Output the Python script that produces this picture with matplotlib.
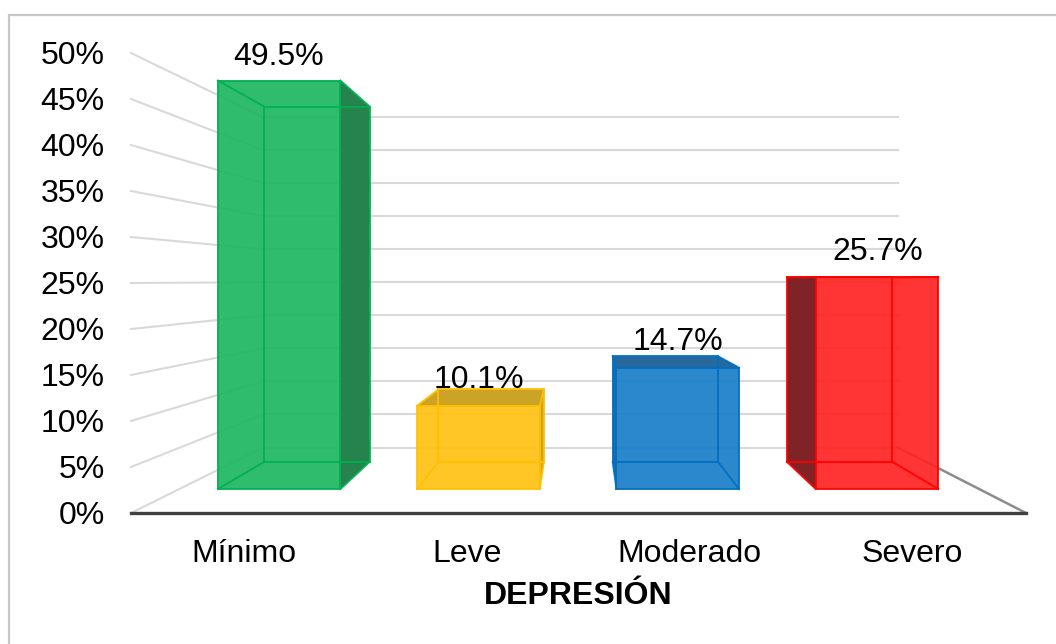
import matplotlib
matplotlib.use('Agg')
import matplotlib.pyplot as plt
from matplotlib.patches import Polygon

plt.rcParams['font.family'] = ['Liberation Sans', 'DejaVu Sans']

categories = ['Mínimo', 'Leve', 'Moderado', 'Severo']
values = [49.5, 10.1, 14.7, 25.7]
value_labels = ['49.5%', '10.1%', '14.7%', '25.7%']
ticks = [0, 5, 10, 15, 20, 25, 30, 35, 40, 45, 50]
axis_title = 'DEPRESIÓN'

fills = ['#1fb762', '#ffc214', '#1c7fc9', '#ff2424']
edges = ['#00b050', '#ffc000', '#0070c0', '#ff0000']
darks = ['#26804c', '#c9a227', '#27689c', '#782326']

# the chart is a faked 3D box, so work in picture pixels and project into it
FRONT_Y0, FRONT_PER = 513, 9.2
BACK_Y0, BACK_PER = 447.5, 6.61
LEFT_F, RIGHT_F = 131, 1026
LEFT_B, RIGHT_B = 263, 898

# depth of the bars inside the box (0 = front edge, 1 = back wall)
T_FRONT, T_BACK = 0.366, 0.78
BAR_U0, BAR_U1_FRONT, BAR_U1_BACK = 0.19, 0.805, 0.795


def py(v, t):
    y0 = FRONT_Y0 + (BACK_Y0 - FRONT_Y0) * t
    per = FRONT_PER + (BACK_PER - FRONT_PER) * t
    return y0 - per * v


def front_x(u):
    return 180 + 199.3 * u


def back_x(u):
    return 231 + 174.3 * u


def hull(pts):
    pts = sorted(set(pts))

    def half(seq):
        out = []
        for p in seq:
            while len(out) > 1 and ((out[-1][0] - out[-2][0]) * (p[1] - out[-2][1])
                                    - (out[-1][1] - out[-2][1]) * (p[0] - out[-2][0])) <= 0:
                out.pop()
            out.append(p)
        return out[:-1]

    return half(pts) + half(pts[::-1])


fig = plt.figure(figsize=(10.56, 6.44), dpi=100)
ax = fig.add_axes([0, 0, 1, 1])
ax.set_xlim(0, 1056)
ax.set_ylim(644, 0)
ax.axis('off')

# frame is cut off by the picture on the right and at the bottom
ax.plot([9, 9, 1056], [644, 14.5, 14.5], color='#c6c6c6', lw=1.6, solid_joinstyle='miter')

# walls
for v in ticks:
    ax.plot([LEFT_F, LEFT_B], [py(v, 0), py(v, 1)], color='#d9d9d9', lw=1.5, zorder=1)
    ax.plot([LEFT_B, RIGHT_B], [py(v, 1), py(v, 1)], color='#d9d9d9', lw=1.5, zorder=1)
    ax.text(104.5, py(v, 0) + 3, f'{v}%', ha='right', va='center', fontsize=23, color='black')
ax.plot([RIGHT_B, RIGHT_F], [py(0, 1), py(0, 0)], color='#8c8c8c', lw=1.8, zorder=1)
ax.plot([LEFT_F, RIGHT_F], [py(0, 0), py(0, 0)], color='#404040', lw=2.4, zorder=1)

label_gaps = [24, 9, 14, 25]
for i, v in enumerate(values):
    xf0, xf1 = front_x(i + BAR_U0), front_x(i + BAR_U1_FRONT)
    xb0, xb1 = back_x(i + BAR_U0), back_x(i + BAR_U1_BACK)
    fb, ft = py(0, T_FRONT), py(v, T_FRONT)
    bb, bt = py(0, T_BACK), py(v, T_BACK)

    corners = [(xf0, fb), (xf1, fb), (xf0, ft), (xf1, ft),
               (xb0, bb), (xb1, bb), (xb0, bt), (xb1, bt)]
    ax.add_patch(Polygon(hull(corners), closed=True, fc=fills[i], ec='none', alpha=0.93, zorder=2))

    # only the faces turned to the viewer come out dark
    shaded = []
    if bt < ft:
        shaded.append([(xf0, ft), (xf1, ft), (xb1, bt), (xb0, bt)])
    if xb0 < xf0:
        shaded.append([(xf0, ft), (xb0, bt), (xb0, bb), (xf0, fb)])
    if xb1 > xf1:
        shaded.append([(xf1, ft), (xb1, bt), (xb1, bb), (xf1, fb)])
    for face in shaded:
        ax.add_patch(Polygon(face, closed=True, fc=darks[i], ec='none', alpha=0.95, zorder=3))

    lines = [
        ([xf0, xf1, xf1, xf0, xf0], [fb, fb, ft, ft, fb]),
        ([xb0, xb1, xb1, xb0, xb0], [bb, bb, bt, bt, bb]),
        ([xf0, xb0], [fb, bb]), ([xf1, xb1], [fb, bb]),
        ([xf0, xb0], [ft, bt]), ([xf1, xb1], [ft, bt]),
    ]
    for lx, ly in lines:
        ax.plot(lx, ly, color=edges[i], lw=1.4, alpha=0.9, zorder=4, solid_joinstyle='miter')

    ax.text(279 + 199.5 * i, min(ft, bt) - label_gaps[i], value_labels[i], ha='center', va='center',
            fontsize=23, color='black', zorder=5)
    ax.text(244 + 222.7 * i, 553.5, categories[i], ha='center', va='center', fontsize=23, color='black')

ax.text(578, 596, axis_title, ha='center', va='center', fontsize=23, fontweight='bold', color='black')

fig.savefig('out.png', dpi=100, facecolor='white')
